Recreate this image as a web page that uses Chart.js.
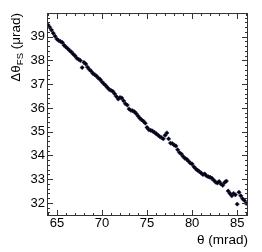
<!DOCTYPE html>
<html>
<head>
<meta charset="utf-8">
<script src="https://cdn.jsdelivr.net/npm/chart.js@4/dist/chart.umd.min.js"></script>
<style>
  html, body { margin: 0; padding: 0; background: #fff; }
  #wrap { width: 262px; height: 252px; }
</style>
</head>
<body>
<div id="wrap"><canvas id="fs" width="262" height="252"></canvas></div>
<script>
// theta in mrad
let thetaVals = [64.0,64.2,64.4,64.6,64.8,65.0,65.2,65.4,65.6,65.8,
  66.0,66.2,66.4,66.6,66.8,67.0,67.2,67.4,67.6,67.8,
  68.0,68.2,68.4,68.6,68.8,69.0,69.2,69.4,69.6,69.8,
  70.0,70.2,70.4,70.6,70.8,71.0,71.2,71.4,71.6,71.8,
  72.0,72.2,72.4,72.6,72.8,73.0,73.2,73.4,73.6,73.8,
  74.0,74.2,74.4,74.6,74.8,75.0,75.2,75.4,75.6,75.8,
  76.0,76.2,76.4,76.6,76.8,77.0,77.2,77.4,77.6,77.8,
  78.0,78.2,78.4,78.6,78.8,79.0,79.2,79.4,79.6,79.8,
  80.0,80.2,80.4,80.6,80.8,81.0,81.2,81.4,81.6,81.8,
  82.0,82.2,82.4,82.6,82.8,83.0,83.2,83.4,83.6,83.8,
  84.0,84.2,84.4,84.6,84.8,85.0,85.2,85.4,85.6,85.8,86.0]
// delta theta FS in urad
let dThetaFS = [39.50,39.40,39.28,39.15,39.02,38.90,38.84,38.80,38.76,38.64,
  38.57,38.50,38.42,38.36,38.27,38.20,38.10,38.05,38.00,37.70,
  37.92,37.85,37.72,37.62,37.55,37.45,37.40,37.34,37.26,37.20,
  37.10,37.02,36.95,36.86,36.78,36.74,36.70,36.60,36.48,36.38,
  36.44,36.42,36.30,36.18,36.12,35.96,35.90,35.88,35.84,35.76,
  35.66,35.57,35.50,35.44,35.36,35.18,35.08,35.06,35.03,34.98,
  34.92,34.86,34.80,34.75,34.70,34.85,34.95,34.70,34.52,34.50,
  34.44,34.40,34.24,34.12,34.06,33.96,33.88,33.84,33.76,33.68,
  33.64,33.52,33.44,33.38,33.32,33.26,33.20,33.22,33.14,33.10,
  33.08,33.04,32.96,32.88,32.84,32.90,32.80,32.74,32.86,32.92,
  32.50,32.40,32.30,32.40,32.34,31.95,32.45,32.30,32.18,32.10,31.98]

let xTicks = [65,70,75,80,85]
let yTicks = [32,33,34,35,36,37,38,39]

let pts = thetaVals.map((t,i) => ({x:t, y:dThetaFS[i]}))

// ROOT-like frame with inward ticks on all four sides
let frameTicks = {
  id:'frameTicks',
  afterDraw(chart){
    let c = chart.ctx, a = chart.chartArea
    let xs = chart.scales.x, ys = chart.scales.y
    c.save()
    c.strokeStyle = '#333'
    c.lineWidth = 1
    c.strokeRect(a.left+0.5, a.top+0.5, a.right-a.left-1, a.bottom-a.top-1)
    c.beginPath()
    for (let v = 64; v <= 86; v++) {
      let px = Math.round(xs.getPixelForValue(v))+0.5
      let len = (v % 5 === 0) ? 6 : 3
      c.moveTo(px, a.bottom); c.lineTo(px, a.bottom-len)
      c.moveTo(px, a.top); c.lineTo(px, a.top+len)
    }
    for (let v = 31.6; v <= 40.0; v += 0.2) {
      let vv = Math.round(v*10)/10
      let py = Math.round(ys.getPixelForValue(vv))+0.5
      let len = (Math.abs(vv-Math.round(vv)) < 0.01) ? 6 : 3
      c.moveTo(a.left, py); c.lineTo(a.left+len, py)
      c.moveTo(a.right, py); c.lineTo(a.right-len, py)
    }
    c.stroke()

    // y axis title with subscript
    c.fillStyle = '#000'
    c.translate(16, a.top)
    c.rotate(-Math.PI/2)
    c.textBaseline = 'middle'
    let big = '13.5px "Liberation Sans", Arial, sans-serif'
    let small = '9.5px "Liberation Sans", Arial, sans-serif'
    c.font = big
    let w1 = c.measureText('\u0394\u03b8').width
    let w3 = c.measureText(' (\u03bcrad)').width
    c.font = small
    let w2 = c.measureText('FS').width
    let x0 = -(w1+w2+w3)
    c.font = big
    c.fillText('\u0394\u03b8', x0, 0)
    c.font = small
    c.fillText('FS', x0+w1, 4)
    c.font = big
    c.fillText(' (\u03bcrad)', x0+w1+w2, 0)
    c.restore()
  }
}

let chart = new Chart(document.getElementById('fs').getContext('2d'), {
  type:'scatter',
  data:{
    datasets:[{
      data:pts,
      pointStyle:'rectRot',
      pointRadius:2.2,
      backgroundColor:'#000',
      borderColor:'#1c1c60',
      borderWidth:0.5
    }]
  },
  options:{
    responsive:false,
    animation:false,
    devicePixelRatio:1,
    layout:{ padding:{ top:13, right:14, left:0, bottom:0 } },
    plugins:{ legend:{display:false}, tooltip:{enabled:false} },
    scales:{
      x:{
        type:'linear', min:63.9, max:86.2,
        afterBuildTicks: s => { s.ticks = xTicks.map(v => ({value:v})) },
        afterFit: s => { s.height = 36 },
        grid:{ display:false, drawTicks:false },
        border:{ display:false },
        ticks:{ color:'#000', padding:0, maxRotation:0,
          font:{ family:'"Liberation Sans", Arial, sans-serif', size:13 } },
        title:{ display:true, text:'\u03b8 (mrad)', align:'end', color:'#000',
          padding:{top:0, bottom:4},
          font:{ family:'"Liberation Sans", Arial, sans-serif', size:13.5 } }
      },
      y:{
        type:'linear', min:31.45, max:40.0,
        afterBuildTicks: s => { s.ticks = yTicks.map(v => ({value:v})) },
        afterFit: s => { s.width = 47 },
        grid:{ display:false, drawTicks:false },
        border:{ display:false },
        ticks:{ color:'#000', padding:2,
          font:{ family:'"Liberation Sans", Arial, sans-serif', size:13 } }
      }
    }
  },
  plugins:[frameTicks]
})
</script>
</body>
</html>
